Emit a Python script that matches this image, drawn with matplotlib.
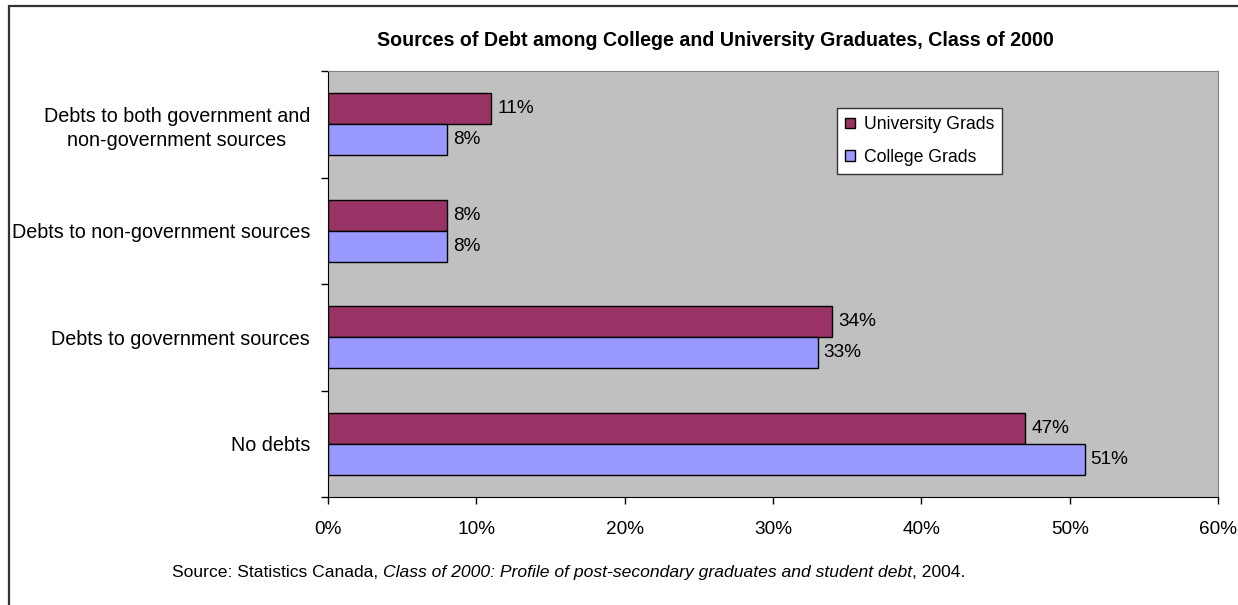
import matplotlib.pyplot as plt
plt.switch_backend('agg')
from matplotlib.patches import Rectangle
import numpy as np

plt.rcParams['font.family'] = ['Liberation Sans', 'DejaVu Sans']

categories = ["No debts",
              "Debts to government sources",
              "Debts to non-government sources",
              "Debts to both government and\nnon-government sources"]
university = [47, 34, 8, 11]
college = [51, 33, 8, 8]
series_names = ["University Grads", "College Grads"]
xticks = [0, 10, 20, 30, 40, 50, 60]

title = "Sources of Debt among College and University Graduates, Class of 2000"
source_parts = [("Source: Statistics Canada, ", "normal"),
                ("Class of 2000: Profile of post-secondary graduates and student debt", "italic"),
                (", 2004.", "normal")]

W, H = 1238, 605
fig = plt.figure(figsize=(W / 100, H / 100), dpi=100)

# outer chart border (runs off the right and bottom edges)
fig.add_artist(Rectangle((9 / W, -0.1), 1.2, 1.1 - 6 / H, transform=fig.transFigure,
                         fill=False, edgecolor='#333333', linewidth=1.6))

ax = fig.add_axes([328 / W, (H - 497) / H, (1218 - 328) / W, (497 - 71) / H])
ax.set_facecolor('#C0C0C0')

y = np.arange(len(categories))
h = 0.29
b1 = ax.barh(y + h / 2, university, height=h, color='#993366', edgecolor='black',
             linewidth=1, label=series_names[0])
b2 = ax.barh(y - h / 2, college, height=h, color='#9999FF', edgecolor='black',
             linewidth=1, label=series_names[1])

for bars, vals in ((b1, university), (b2, college)):
    for rect, v in zip(bars, vals):
        ax.annotate(f"{v}%", xy=(v, rect.get_y() + rect.get_height() / 2),
                    xytext=(6, 0), textcoords='offset pixels',
                    va='center', ha='left', fontsize=13.7)

ax.set_xlim(0, 60)
ax.set_ylim(-0.5, len(categories) - 0.5)
ax.set_xticks(xticks, [f"{t}%" for t in xticks])
ax.set_yticks(np.arange(-0.5, len(categories), 1.0), [])
ax.set_yticks(y, categories, minor=True, multialignment='center', linespacing=1.3)
ax.tick_params(axis='x', direction='out', length=5, width=1, pad=12, labelsize=13.7)
ax.tick_params(axis='y', which='major', direction='out', length=5, width=1)
ax.tick_params(axis='y', which='minor', length=0, pad=13, labelsize=14.2)

for side in ('top', 'right'):
    ax.spines[side].set_color('#808080')
for side in ('left', 'bottom'):
    ax.spines[side].set_color('black')

leg = fig.legend(loc='upper left', bbox_to_anchor=(837 / W, 1 - 108 / H),
                 frameon=True, fancybox=False, shadow=False, fontsize=12.7,
                 handlelength=0.55, handleheight=0.55, handletextpad=0.5,
                 labelspacing=0.88, borderpad=0.46, borderaxespad=0,
                 framealpha=1, facecolor='white', edgecolor='#333333')
leg.get_frame().set_linewidth(1)

fig.text(715 / W, 1 - 41 / H, title, ha='center', va='center',
         fontsize=14.1, fontweight='bold')

# source line: plain, italic title, plain, all on one baseline
renderer = fig.canvas.get_renderer()
x = 172
for txt, style in source_parts:
    t = fig.text(x / W, 1 - 577 / H, txt, ha='left', va='baseline',
                 fontsize=12.6, fontstyle=style)
    x += t.get_window_extent(renderer).width

fig.savefig("out.png", dpi=100)
